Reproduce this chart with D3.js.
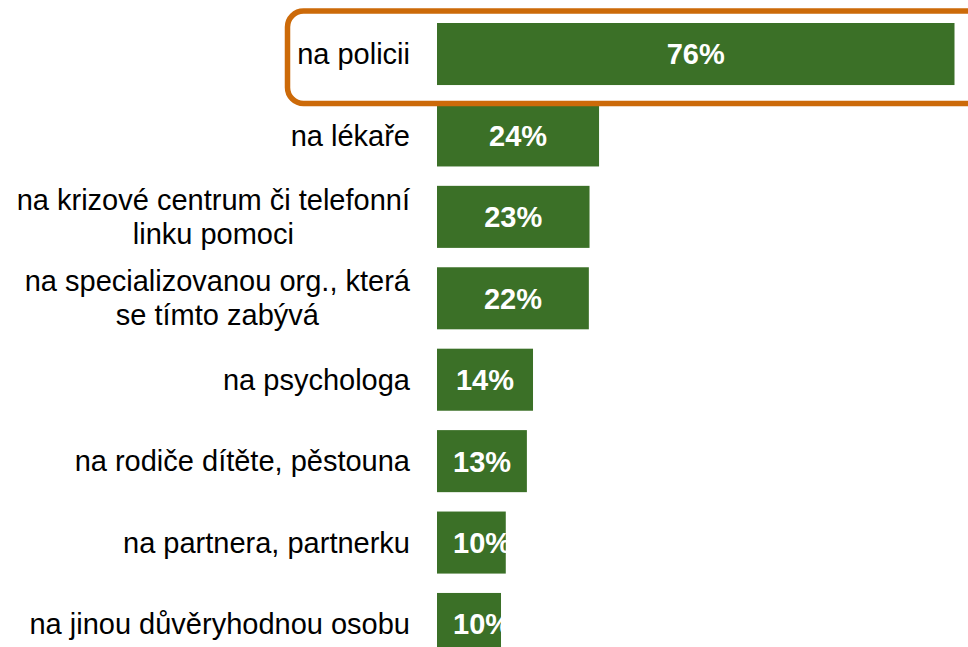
<!DOCTYPE html>
<html>
<head>
<meta charset="utf-8">
<script src="https://cdn.jsdelivr.net/npm/d3@7"></script>
<style>
  body { margin: 0; background: #fff; }
  svg { display: block; font-family: Arial, "Liberation Sans", sans-serif; }
</style>
</head>
<body>
<div id="chart"></div>
<script>
// categories (each one split in lines as in the picture)
let categories = [
  ["na policii"],
  ["na lékaře"],
  ["na krizové centrum či telefonní", "linku pomoci"],
  ["na specializovanou org., která", "se tímto zabývá"],
  ["na psychologa"],
  ["na rodiče dítěte, pěstouna"],
  ["na partnera, partnerku"],
  ["na jinou důvěryhodnou osobu"]
];
let values = [76, 23.8, 22.4, 22.3, 14.1, 13.2, 10.1, 9.4];
let valueLabels = ["76%", "24%", "23%", "22%", "14%", "13%", "10%", "10%"];

let svgWidth = 968;
let svgHeight = 647;

let svg = d3.select("#chart")
  .append("svg")
  .attr("width", svgWidth)
  .attr("height", svgHeight);

let rows = d3.range(values.length);

// scales
let x = d3.scaleLinear()
  .domain([0, 76])
  .range([437, 954.5]);

let y = d3.scaleBand()
  .domain(rows)
  .range([23, 655])
  .paddingInner(0.238)
  .paddingOuter(0);

// bars
svg.append("g")
  .selectAll("rect")
  .data(rows)
  .join("rect")
  .attr("x", x(0))
  .attr("y", i => y(i))
  .attr("width", i => x(values[i]) - x(0))
  .attr("height", y.bandwidth())
  .attr("fill", "#3b7027");

// value labels, centered in the bar (but never closer than 16px to the bar start)
let valueText = svg.append("g")
  .selectAll("text")
  .data(rows)
  .join("text")
  .attr("y", i => y(i) + y.bandwidth() / 2)
  .attr("dy", "0.36em")
  .attr("text-anchor", "start")
  .attr("fill", "#fff")
  .attr("font-weight", "bold")
  .attr("font-size", 29)
  .text(i => valueLabels[i]);

valueText.each(function(i) {
  let w = this.getComputedTextLength();
  let cx = (x(0) + x(values[i])) / 2;
  d3.select(this).attr("x", Math.max(cx - w / 2, x(0) + 16));
});

// category labels: block right aligned, lines centered within it
let lineHeight = 34;
let labelRight = 410;
let labelGroup = svg.append("g")
  .attr("font-size", 29)
  .attr("fill", "#000");

rows.forEach(i => {
  let lines = categories[i];
  let t = labelGroup.append("text")
    .attr("text-anchor", "middle");
  let cy = y(i) + y.bandwidth() / 2;
  lines.forEach((ln, k) => {
    t.append("tspan")
      .attr("x", 0)
      .attr("y", cy + (k - (lines.length - 1) / 2) * lineHeight)
      .attr("dy", "0.35em")
      .text(ln);
  });
  let w = d3.max(t.selectAll("tspan").nodes(), n => n.getComputedTextLength());
  t.selectAll("tspan").attr("x", labelRight - w / 2);
});

// highlight box around the first row
svg.append("rect")
  .attr("x", 287.5)
  .attr("y", 11)
  .attr("width", 720)
  .attr("height", 92.5)
  .attr("rx", 16)
  .attr("fill", "none")
  .attr("stroke", "#cc6a09")
  .attr("stroke-width", 5.5);
</script>
</body>
</html>
